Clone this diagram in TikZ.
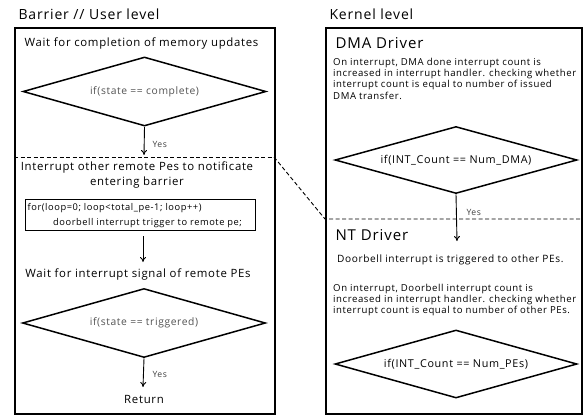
\documentclass[tikz,border=0pt]{standalone}
\usepackage{fontspec}
\setmainfont{Open Sans}[LetterSpace=6]
\usetikzlibrary{shapes.geometric,arrows.meta}

\begin{document}
\begin{tikzpicture}[x=1pt,y=-1pt,
  panel/.style={draw, line width=1.6pt, inner sep=0pt, anchor=north west},
  cond/.style={diamond, draw, line width=1.5pt, inner sep=0pt,
               minimum width=243pt, minimum height=69pt},
  flow/.style={-{To[length=5pt,width=6pt]}, line width=0.9pt},
  sep/.style={dashed, dash pattern=on 4pt off 2.5pt, line width=0.9pt},
  title/.style={anchor=west, font=\fontsize{14}{16}\selectfont},
  head/.style={anchor=west, font=\fontsize{15}{18}\selectfont},
  stepText/.style={align=center, font=\fontsize{11.4}{15}\selectfont},
  condGray/.style={font=\fontsize{10.3}{12}\selectfont, text=black!68},
  condBlack/.style={font=\fontsize{10.8}{14}\selectfont},
  yesText/.style={anchor=west, font=\fontsize{8.6}{11}\selectfont, text=black!75},
  note/.style={align=left, inner sep=0pt, font=\fontsize{9.6}{11.2}\selectfont},
  code/.style={align=left, inner sep=0pt, font=\fontsize{9.3}{15}\selectfont}
]
\useasboundingbox (0,0) rectangle (588,416);

% ---------- user level ----------
\node[title] (userTitle) at (15,14) {Barrier // User level};
\node[panel, minimum width=260pt, minimum height=386pt] (userBox) at (14,27) {};

\node[stepText] (waitDone) at (141.5,44) {Wait for completion of memory updates};
\node[cond] (condDone) at (144.5,91.5) {};
\node[condGray] at (condDone.center) {if(state == complete)};
\coordinate (sepL) at (14,157);
\coordinate (sepLR) at (274,157);
\draw[sep] (sepL) -- (sepLR);
\coordinate (yes1End) at (144,155);
\draw[flow] (condDone.south) -- (yes1End);
\node[yesText] (yes1) at (149,144) {Yes};

\node[stepText] (notify) at (137,175.5) {Interrupt other remote Pes to notificate\\entering barrier};
\node[panel, line width=1.4pt, minimum width=230pt, minimum height=31pt] (codeBox) at (25,199) {};
\node[code, anchor=west] (codeText) at (27.5,215.5)
  {for(loop=0; loop<total\_pe-1; loop++)\\\hspace*{25.5pt}doorbell interrupt trigger to remote pe;};
\coordinate (arrA) at (143,236);
\coordinate (arrB) at (143,262);
\draw[flow] (arrA) -- (arrB);

\node[stepText] (waitSig) at (138,274) {Wait for interrupt signal of remote PEs};
\node[cond] (condTrig) at (144,323) {};
\node[condGray] at (condTrig.center) {if(state == triggered)};
\coordinate (yes2End) at (143,387);
\draw[flow] (condTrig.south) -- (yes2End);
\node[yesText] (yes2) at (149,374) {Yes};
\node[stepText] (ret) at (144,399) {Return};

% ---------- kernel level ----------
\node[title] (kernTitle) at (326,14) {Kernel level};
\node[panel, minimum width=256pt, minimum height=386pt] (kernBox) at (325,27) {};

\node[head] (dmaHead) at (332,43) {DMA Driver};
\node[note, anchor=north west] (dmaNote) at (333,58)
  {On interrupt, DMA done interrupt count is\\
   increased in interrupt handler. checking whether\\
   interrupt count is equal to number of issued\\
   DMA transfer.};
\node[cond, minimum width=242pt, minimum height=67pt] (condDMA) at (456,160) {};
\node[condBlack] at (condDMA.center) {if(INT\_Count == Num\_DMA)};

\coordinate (sepR) at (325,219);
\coordinate (sepRR) at (581,219);
\draw[sep] (sepLR) -- (sepR) -- (sepRR);

\coordinate (yes3End) at (457,241);
\draw[flow] (condDMA.south) -- (yes3End);
\node[yesText] (yes3) at (463,212) {Yes};

\node[head] (ntHead) at (332,235) {NT Driver};
\node[note, anchor=west, font=\fontsize{10.1}{12}\selectfont] (bell) at (337,260) {Doorbell interrupt is triggered to other PEs.};
\node[note, anchor=north west] (ntNote) at (333,284)
  {On interrupt, Doorbell interrupt count is\\
   increased in interrupt handler. checking whether\\
   interrupt count is equal to number of other PEs.};
\node[cond, minimum width=242pt, minimum height=68pt] (condPE) at (456,364) {};
\node[condBlack] at (condPE.center) {if(INT\_Count == Num\_PEs)};
\end{tikzpicture}
\end{document}
